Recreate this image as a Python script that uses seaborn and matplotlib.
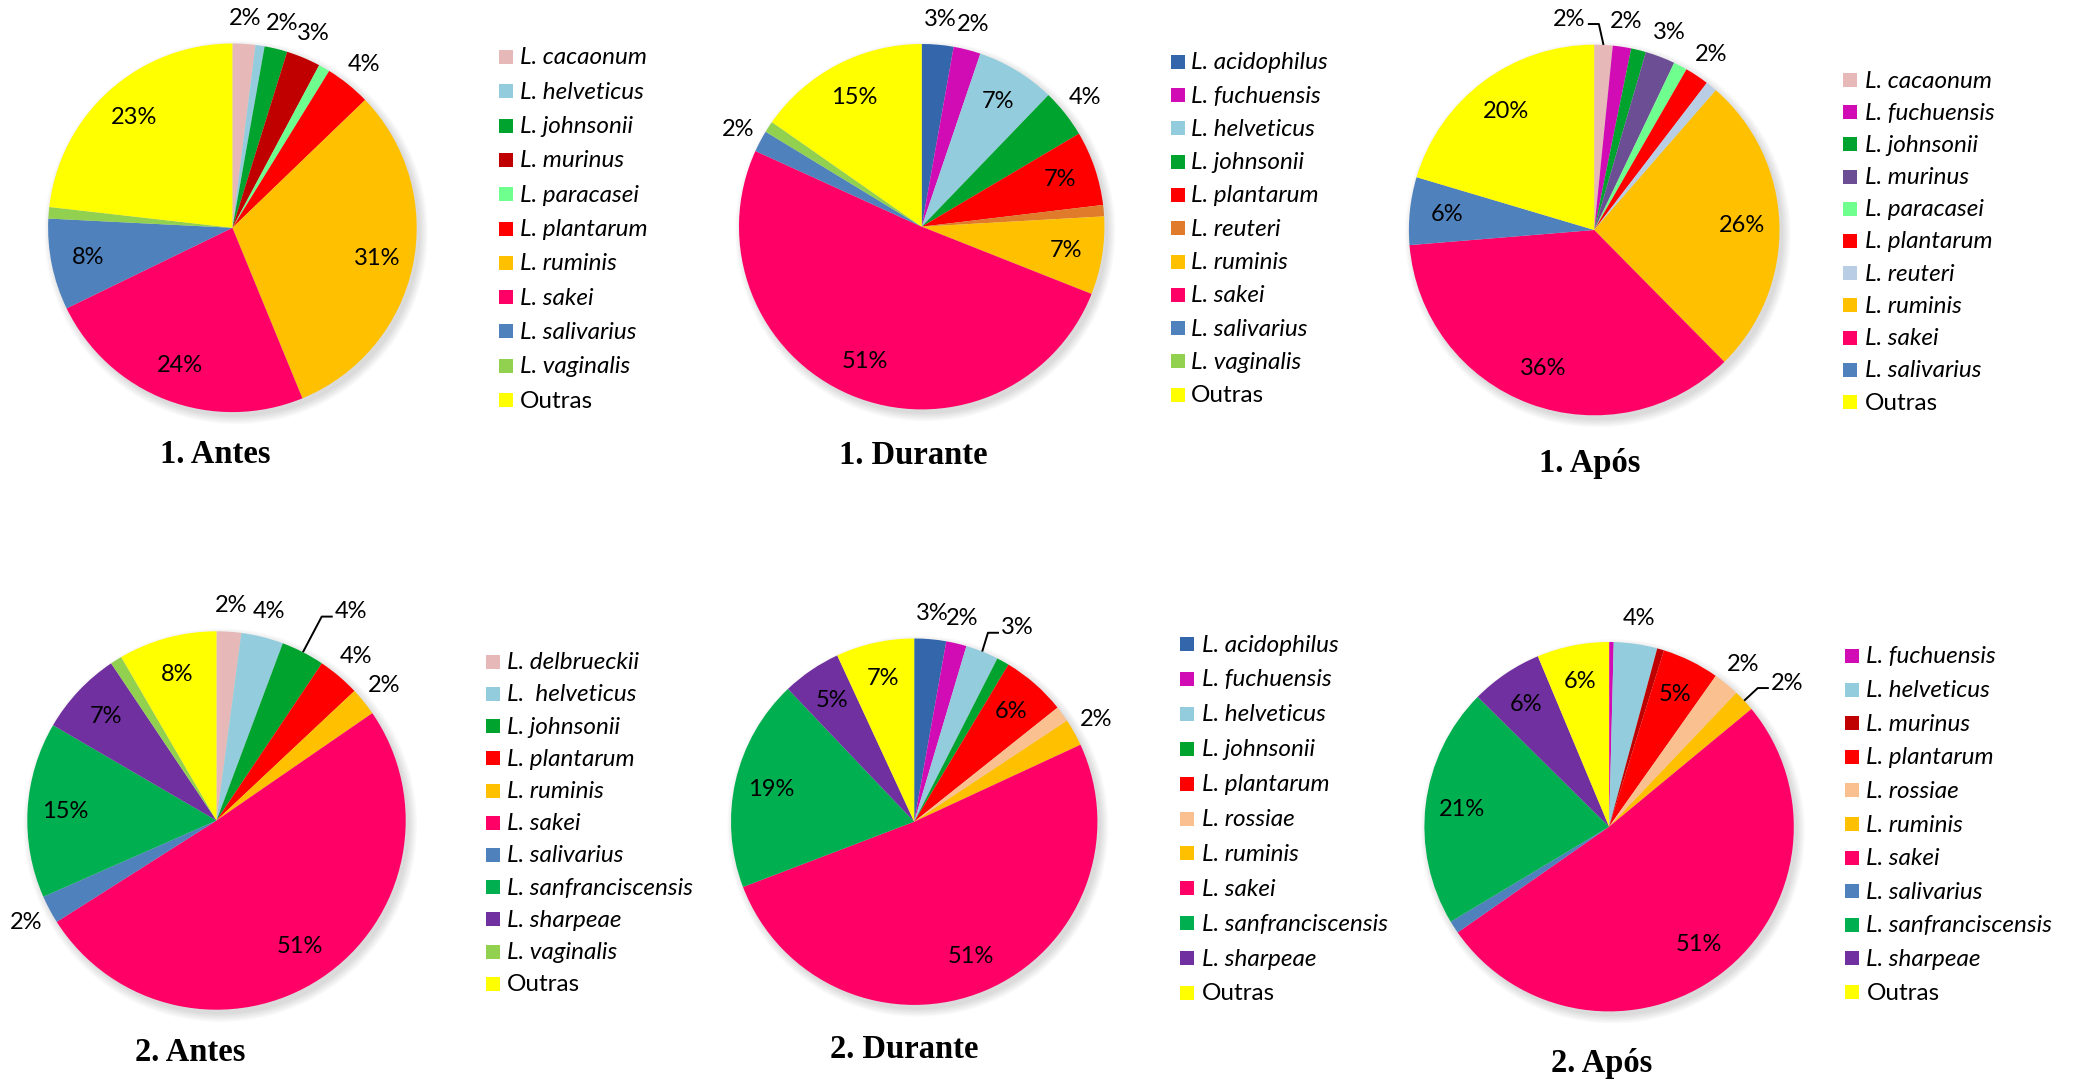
import matplotlib
matplotlib.use("Agg")
import numpy as np
import matplotlib.pyplot as plt
from matplotlib.patches import Rectangle, Circle
import seaborn as sns

sns.set_theme(style="white")
plt.rcParams["font.family"] = ["Lato", "DejaVu Sans"]

W, H = 2081, 1083

# Relative abundance (%) of Lactobacillus species, before / during / after
antes1_species = ["L. cacaonum", "L. helveticus", "L. johnsonii", "L. murinus", "L. paracasei",
                  "L. plantarum", "L. ruminis", "L. sakei", "L. salivarius", "L. vaginalis", "Outras"]
antes1_values = [2.0, 0.8, 2.0, 3.0, 1.0, 4.0, 31.0, 24.0, 8.0, 1.0, 23.2]

durante1_species = ["L. acidophilus", "L. fuchuensis", "L. helveticus", "L. johnsonii", "L. plantarum",
                    "L. reuteri", "L. ruminis", "L. sakei", "L. salivarius", "L. vaginalis", "Outras"]
durante1_values = [2.8, 2.4, 7.0, 4.3, 6.6, 1.0, 6.9, 50.8, 1.9, 1.0, 15.3]

apos1_species = ["L. cacaonum", "L. fuchuensis", "L. johnsonii", "L. murinus", "L. paracasei",
                 "L. plantarum", "L. reuteri", "L. ruminis", "L. sakei", "L. salivarius", "Outras"]
apos1_values = [1.6, 1.6, 1.3, 2.6, 1.2, 2.1, 1.0, 26.2, 36.1, 5.9, 20.4]

antes2_species = ["L. delbrueckii", "L.  helveticus", "L. johnsonii", "L. plantarum", "L. ruminis",
                  "L. sakei", "L. salivarius", "L. sanfranciscensis", "L. sharpeae", "L. vaginalis", "Outras"]
antes2_values = [2.1, 3.6, 3.7, 3.6, 2.4, 50.6, 2.4, 15.0, 7.2, 1.0, 8.4]

durante2_species = ["L. acidophilus", "L. fuchuensis", "L. helveticus", "L. johnsonii", "L. plantarum",
                    "L. rossiae", "L. ruminis", "L. sakei", "L. sanfranciscensis", "L. sharpeae", "Outras"]
durante2_values = [2.8, 1.8, 2.9, 1.1, 5.7, 1.4, 2.4, 51.1, 18.7, 5.2, 6.9]

apos2_species = ["L. fuchuensis", "L. helveticus", "L. murinus", "L. plantarum", "L. rossiae",
                 "L. ruminis", "L. sakei", "L. salivarius", "L. sanfranciscensis", "L. sharpeae", "Outras"]
apos2_values = [0.4, 3.8, 0.6, 5.0, 2.3, 1.9, 51.3, 1.1, 21.0, 6.3, 6.3]

# Species colours
palette = {
    "L. cacaonum": "#E6B9B8", "L. delbrueckii": "#E6B9B8", "L. helveticus": "#93CDDD",
    "L. johnsonii": "#00A32E", "L. murinus": "#C00000", "L. paracasei": "#6FFF8F",
    "L. plantarum": "#FF0000", "L. ruminis": "#FFC000", "L. sakei": "#FF0066",
    "L. salivarius": "#4F81BD", "L. vaginalis": "#92D050", "Outras": "#FFFF00",
    "L. acidophilus": "#3366AB", "L. fuchuensis": "#D20CB4", "L. reuteri": "#E07B2B",
    "L. sanfranciscensis": "#00B050", "L. sharpeae": "#7030A0", "L. rossiae": "#FAC090",
}
apos1_colors = {"L. murinus": "#6B4E94", "L. reuteri": "#B9CDE5"}

# Layout of each panel (pixel units of the 2081x1083 canvas)
charts = [
    dict(title="1. Antes", species=antes1_species, values=antes1_values, colors={},
         center=(232.4, 227.8), radius=184.3, title_xy=(215, 463),
         legend=(499, 57, 34.3, 520), moved={}),
    dict(title="1. Durante", species=durante1_species, values=durante1_values, colors={},
         center=(921.7, 226.7), radius=182.7, title_xy=(913.8, 464),
         legend=(1171, 61.7, 33.3, 1191), moved={}),
    dict(title="1. Após", species=apos1_species, values=apos1_values, colors=apos1_colors,
         center=(1594.2, 230), radius=185.3, title_xy=(1589.7, 472),
         legend=(1842.7, 80, 32.2, 1865), moved={"L. cacaonum": (-0.19, 0.0)}),
    dict(title="2. Antes", species=antes2_species, values=antes2_values, colors={},
         center=(216.5, 820.5), radius=189.2, title_xy=(190.5, 1061),
         legend=(485.8, 661.7, 32.2, 507.3), moved={"L. johnsonii": (0.19, 0.09)}),
    dict(title="2. Durante", species=durante2_species, values=durante2_values, colors={},
         center=(914.2, 821.7), radius=183.2, title_xy=(904.5, 1058.3),
         legend=(1179.8, 644, 34.9, 1201.8), moved={"L. helveticus": (0.14, 0.0)}),
    dict(title="2. Após", species=apos2_species, values=apos2_values, colors={},
         center=(1609.1, 826.7), radius=184.7, title_xy=(1601.5, 1072),
         legend=(1844.9, 656, 33.6, 1866.4), moved={"L. ruminis": (0.13, 0.0)}),
]

LABEL_MIN = 1.5      # slices below this share get no label
INSIDE_MIN = 4.5     # slices from this share get their label inside
INSIDE_R, OUTSIDE_R = 0.80, 1.14
LABEL_FS, LEGEND_FS, TITLE_FS = 17, 17.5, 23.5
LIM = 1.35

fig = plt.figure(figsize=(W / 100, H / 100), dpi=100)
fig.patch.set_facecolor("white")

leaders = []
for spec in charts:
    cx, cy = spec["center"]
    r0 = spec["radius"]
    ax = fig.add_axes([(cx - LIM * r0) / W, 1 - (cy + LIM * r0) / H,
                       2 * LIM * r0 / W, 2 * LIM * r0 / H])
    names = spec["species"]
    values = spec["values"]
    keys = [" ".join(n.split()) for n in names]
    colors = [spec["colors"].get(k, palette[k]) for k in keys]

    # soft drop shadow under the pie
    for i in range(6):
        ax.add_patch(Circle((0.02, -0.025), 1.0 + 0.008 * i, facecolor="black",
                            alpha=0.025, lw=0, zorder=0))

    wedges, _ = ax.pie(values, colors=colors, startangle=90, counterclock=False,
                       radius=1.0, wedgeprops=dict(linewidth=0, zorder=2))
    ax.set_aspect("auto")
    ax.set_xlim(-LIM, LIM)
    ax.set_ylim(-LIM, LIM)
    ax.axis("off")

    total = float(sum(values))
    for w, key, v in zip(wedges, keys, values):
        pct = 100.0 * v / total
        if pct < LABEL_MIN:
            continue
        th = np.deg2rad((w.theta1 + w.theta2) / 2.0)
        r = INSIDE_R if pct >= INSIDE_MIN else OUTSIDE_R
        dx, dy = spec["moved"].get(key, (0.0, 0.0))
        t = ax.text(r * np.cos(th) + dx, r * np.sin(th) + dy, f"{pct:.0f}%",
                    ha="center", va="center", fontsize=LABEL_FS, color="black", zorder=5)
        if dx or dy:
            leaders.append((ax, t, th, np.sign(dx)))

    # legend
    mx, my0, step, textx = spec["legend"]
    for i, (name, col) in enumerate(zip(names, colors)):
        yc = my0 + i * step
        fig.add_artist(Rectangle((mx / W, 1 - (yc + 7) / H), 14 / W, 14 / H,
                                 transform=fig.transFigure, facecolor=col, lw=0))
        fig.text(textx / W, 1 - (yc + 7.5) / H, name, ha="left", va="baseline",
                 fontsize=LEGEND_FS, color="black",
                 style="italic" if name.startswith("L.") else "normal")

    tx, ty = spec["title_xy"]
    fig.text(tx / W, 1 - ty / H, spec["title"], ha="center", va="baseline",
             fontsize=TITLE_FS, fontweight="bold", color="black",
             family=["Liberation Serif", "DejaVu Serif"])

# leader lines for labels moved away from their slice
fig.canvas.draw()
for ax, t, th, sign in leaders:
    bb = t.get_window_extent()
    yc = (bb.y0 + bb.y1) / 2 - 5
    if sign > 0:
        sx = bb.x0 - 2
        kx = sx - 11
    else:
        sx = bb.x1 + 2
        kx = sx + 11
    ex, ey = ax.transData.transform((np.cos(th), np.sin(th)))
    pts = ax.transData.inverted().transform([(sx, yc), (kx, yc), (ex, ey)])
    ax.plot(pts[:, 0], pts[:, 1], color="black", lw=1.4, zorder=6, solid_capstyle="butt")

fig.savefig("out.png", dpi=100, facecolor="white")
